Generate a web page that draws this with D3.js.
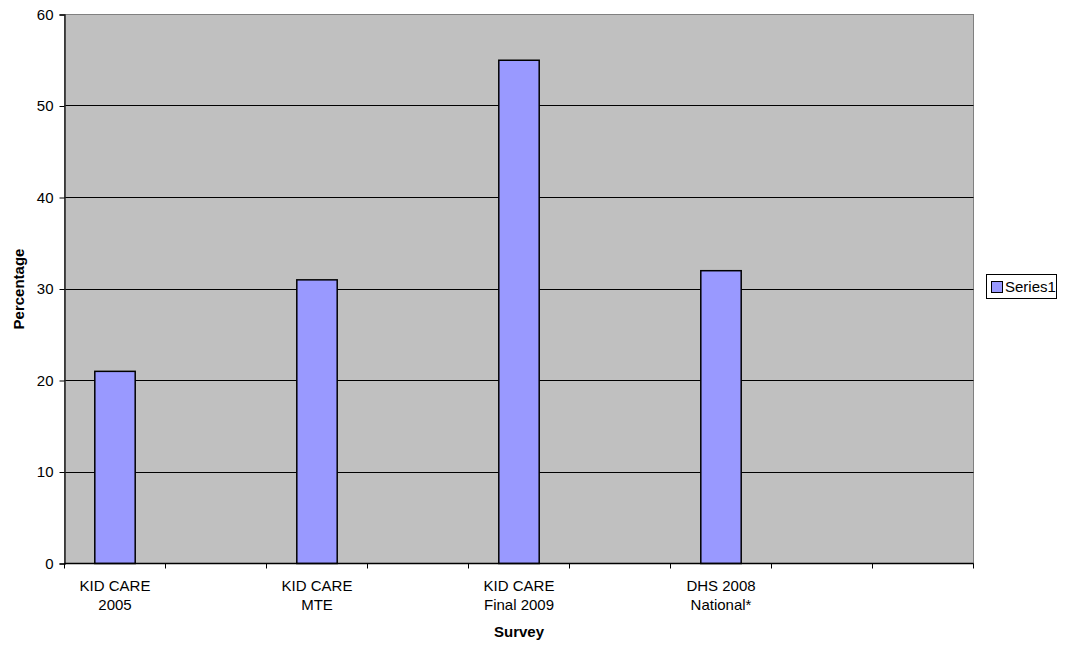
<!DOCTYPE html>
<html>
<head>
<meta charset="utf-8">
<script src="https://cdn.jsdelivr.net/npm/d3@7"></script>
<style>
  html, body { margin: 0; padding: 0; background: #fff; }
  svg { display: block; font-family: "Liberation Sans", Arial, sans-serif; }
</style>
</head>
<body>
<svg id="chart" width="1065" height="646"></svg>
<script>
// ---- data ----
const categories = ["KID CARE\n2005", "", "KID CARE\nMTE", "", "KID CARE\nFinal 2009", "", "DHS 2008\nNational*", "", ""];
const series1 = [21, null, 31, null, 55, null, 32, null, null];
const yTicks = [0, 10, 20, 30, 40, 50, 60];
const seriesName = "Series1";
const xTitle = "Survey";
const yTitle = "Percentage";

// ---- layout ----
const svg = d3.select("#chart");
const plot = { left: 64.5, right: 973.5, top: 14.5, bottom: 563.5 };

const x = d3.scaleBand()
  .domain(d3.range(categories.length))
  .range([plot.left, plot.right])
  .paddingInner(0).paddingOuter(0);

const y = d3.scaleLinear().domain([0, 60]).range([plot.bottom, plot.top]);

// plot background
svg.append("rect")
  .attr("x", plot.left).attr("y", plot.top)
  .attr("width", plot.right - plot.left).attr("height", plot.bottom - plot.top)
  .attr("fill", "#C0C0C0")
  .attr("stroke", "#808080").attr("stroke-width", 1);

// gridlines
svg.append("g").selectAll("line")
  .data(yTicks.filter(d => d > 0 && d < 60))
  .join("line")
  .attr("x1", plot.left).attr("x2", plot.right)
  .attr("y1", d => Math.round(y(d) - 0.5) + 0.5)
  .attr("y2", d => Math.round(y(d) - 0.5) + 0.5)
  .attr("stroke", "#000").attr("stroke-width", 1);

// bars
const barW = x.bandwidth() * 0.4;
svg.append("g").selectAll("rect")
  .data(series1.map((v, i) => ({ v, i })).filter(d => d.v != null))
  .join("rect")
  .attr("x", d => x(d.i) + (x.bandwidth() - barW) / 2)
  .attr("y", d => y(d.v))
  .attr("width", barW)
  .attr("height", d => y(0) - y(d.v))
  .attr("fill", "#9999FF")
  .attr("stroke", "#000").attr("stroke-width", 1.5);

// y axis
const yAxis = d3.axisLeft(y).tickValues(yTicks).tickSize(5).tickPadding(6);
const gy = svg.append("g").attr("transform", `translate(${plot.left},0)`).call(yAxis);
gy.select(".domain").attr("stroke", "#222").attr("stroke-width", 1.5);
gy.selectAll(".tick line").attr("stroke", "#000");
gy.selectAll(".tick text").attr("font-size", 15).attr("fill", "#000")
  .attr("font-family", "Liberation Sans, Arial, sans-serif");

// x axis (custom: ticks at category boundaries)
const gx = svg.append("g");
gx.append("line")
  .attr("x1", plot.left).attr("x2", plot.right)
  .attr("y1", plot.bottom).attr("y2", plot.bottom)
  .attr("stroke", "#000").attr("stroke-width", 1.5);
const boundaries = d3.range(categories.length + 1).map(i => i < categories.length ? x(i) : plot.right);
gx.selectAll("line.tk").data(boundaries).join("line").attr("class", "tk")
  .attr("x1", d => Math.round(d - 0.5) + 0.5).attr("x2", d => Math.round(d - 0.5) + 0.5)
  .attr("y1", plot.bottom).attr("y2", plot.bottom + 5)
  .attr("stroke", "#000");

const lbl = gx.selectAll("text.lbl")
  .data(categories.map((c, i) => ({ c, i })).filter(d => d.c))
  .join("text").attr("class", "lbl")
  .attr("text-anchor", "middle")
  .attr("font-size", 15).attr("fill", "#000");
lbl.each(function(d) {
  const lines = d.c.split("\n");
  const t = d3.select(this);
  lines.forEach((ln, k) => {
    t.append("tspan")
      .attr("x", x(d.i) + x.bandwidth() / 2)
      .attr("y", 591 + k * 19)
      .text(ln);
  });
});

// axis titles
svg.append("text")
  .attr("x", (plot.left + plot.right) / 2).attr("y", 637)
  .attr("text-anchor", "middle").attr("font-size", 15).attr("font-weight", "bold")
  .text(xTitle);
svg.append("text")
  .attr("transform", `translate(24,${(plot.top + plot.bottom) / 2}) rotate(-90)`)
  .attr("text-anchor", "middle").attr("font-size", 15).attr("font-weight", "bold")
  .text(yTitle);

// legend
const lg = svg.append("g");
lg.append("rect").attr("x", 986.5).attr("y", 274.5).attr("width", 70).attr("height", 24)
  .attr("fill", "#fff").attr("stroke", "#000");
lg.append("rect").attr("x", 991.5).attr("y", 281.5).attr("width", 11).attr("height", 11)
  .attr("fill", "#9999FF").attr("stroke", "#000");
lg.append("text").attr("x", 1005).attr("y", 292).attr("font-size", 15).text(seriesName);
</script>
</body>
</html>
